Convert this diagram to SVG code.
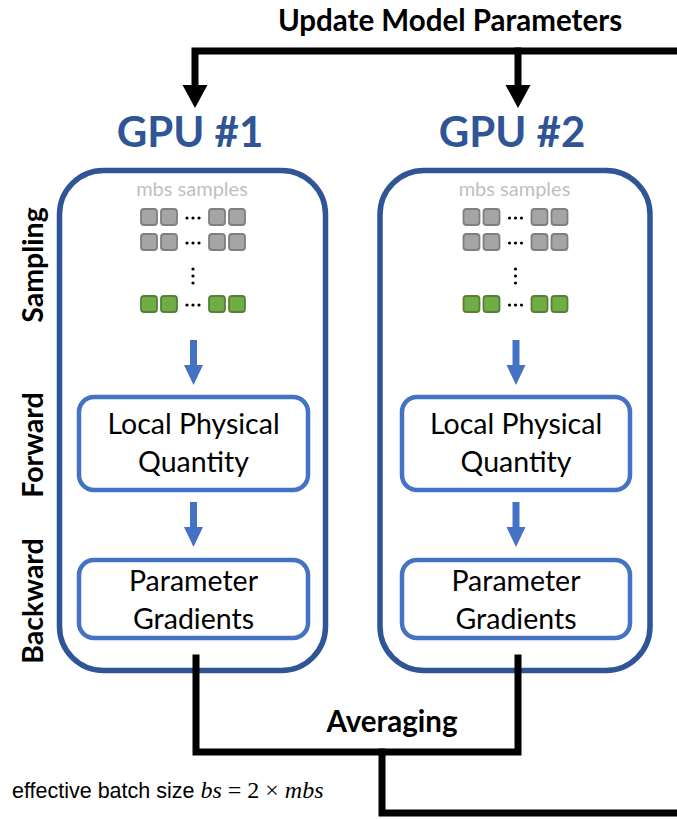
<svg xmlns="http://www.w3.org/2000/svg" width="677" height="819" viewBox="0 0 677 819">
  <style>
    .gpu-frame { fill: #ffffff; stroke: #2F5597; stroke-width: 5.5; }
    .gpu-title { font-family: Lato, "Open Sans", sans-serif; font-weight: bold; font-size: 42px; fill: #2F5597; text-anchor: middle; }
    .stage-box { fill: #ffffff; stroke: #4472C4; stroke-width: 4.5; }
    .stage-text { font-family: Lato, "Open Sans", sans-serif; font-size: 28.5px; fill: #000000; text-anchor: middle; }
    .samples-label { font-family: Lato, "Open Sans", sans-serif; font-size: 20px; fill: #BFBFBF; text-anchor: middle; }
    .sq-gray { fill: #A5A5A5; stroke: #7F7F7F; stroke-width: 1.8; }
    .sq-green { fill: #70AD47; stroke: #548235; stroke-width: 1.8; }
    .dot { fill: #000000; }
    .flow { fill: #4472C4; }
    .bus { fill: none; stroke: #000000; stroke-width: 7; stroke-linejoin: miter; stroke-linecap: square; }
    .bus-head { fill: #000000; }
    .bold-label { font-family: Lato, "Open Sans", sans-serif; font-weight: bold; font-size: 29.5px; fill: #000000; text-anchor: middle; }
    .side-label { font-family: Lato, "Open Sans", sans-serif; font-weight: bold; font-size: 28.5px; fill: #000000; text-anchor: middle; }
    .note { font-family: "Liberation Sans", Arial, sans-serif; font-size: 21.5px; fill: #000000; }
    .math { font-family: "Liberation Serif", "DejaVu Serif", serif; font-size: 24px; fill: #000000; }
  </style>
  <defs>
    <!-- one sample batch: two rows of grey squares, vertical ellipsis, one green row -->
    <g id="sample-block">
      <g>
        <rect class="sq-gray" x="141" y="209" width="16" height="16" rx="3"/>
        <rect class="sq-gray" x="161" y="209" width="16" height="16" rx="3"/>
        <circle class="dot" cx="187" cy="218" r="1.6"/>
        <circle class="dot" cx="193" cy="218" r="1.6"/>
        <circle class="dot" cx="199" cy="218" r="1.6"/>
        <rect class="sq-gray" x="209" y="209" width="16" height="16" rx="3"/>
        <rect class="sq-gray" x="229" y="209" width="16" height="16" rx="3"/>
      </g>
      <g>
        <rect class="sq-gray" x="141" y="234" width="16" height="16" rx="3"/>
        <rect class="sq-gray" x="161" y="234" width="16" height="16" rx="3"/>
        <circle class="dot" cx="187" cy="243" r="1.6"/>
        <circle class="dot" cx="193" cy="243" r="1.6"/>
        <circle class="dot" cx="199" cy="243" r="1.6"/>
        <rect class="sq-gray" x="209" y="234" width="16" height="16" rx="3"/>
        <rect class="sq-gray" x="229" y="234" width="16" height="16" rx="3"/>
      </g>
      <circle class="dot" cx="193" cy="269" r="1.6"/>
      <circle class="dot" cx="193" cy="276" r="1.6"/>
      <circle class="dot" cx="193" cy="283" r="1.6"/>
      <g>
        <rect class="sq-green" x="141" y="296" width="16" height="16" rx="3"/>
        <rect class="sq-green" x="161" y="296" width="16" height="16" rx="3"/>
        <circle class="dot" cx="187" cy="305" r="1.6"/>
        <circle class="dot" cx="193" cy="305" r="1.6"/>
        <circle class="dot" cx="199" cy="305" r="1.6"/>
        <rect class="sq-green" x="209" y="296" width="16" height="16" rx="3"/>
        <rect class="sq-green" x="229" y="296" width="16" height="16" rx="3"/>
      </g>
    </g>
    <!-- blue down arrow, tip at origin -->
    <polygon id="flow-arrow" class="flow" points="-3.5,-45 3.5,-45 3.5,-20 9.5,-20 0,0 -9.5,-20 -3.5,-20"/>
  </defs>

  <!-- phase labels along the left edge -->
  <g id="phase-labels">
    <text class="side-label" transform="translate(43 265) rotate(-90)">Sampling</text>
    <text class="side-label" transform="translate(43 445) rotate(-90)">Forward</text>
    <text class="side-label" transform="translate(43 601) rotate(-90)">Backward</text>
  </g>

  <g id="gpu1">
    <text class="gpu-title" x="190" y="147">GPU #1</text>
    <rect class="gpu-frame" x="59.5" y="170.5" width="266" height="500" rx="44"/>
    <text class="samples-label" x="192" y="196">mbs samples</text>
    <use href="#sample-block"/>
    <use href="#flow-arrow" x="193.5" y="385"/>
    <use href="#flow-arrow" x="193.5" y="547"/>
  </g>
  <g id="gpu1-forward">
    <rect class="stage-box" x="79" y="397" width="229" height="93" rx="15"/>
    <text class="stage-text" x="193.5" y="434">Local Physical</text>
    <text class="stage-text" x="193.5" y="472">Quantity</text>
  </g>
  <g id="gpu1-backward">
    <rect class="stage-box" x="79" y="560" width="229" height="78" rx="15"/>
    <text class="stage-text" x="193.5" y="591">Parameter</text>
    <text class="stage-text" x="193.5" y="629">Gradients</text>
  </g>

  <g id="gpu2">
    <text class="gpu-title" x="512" y="147">GPU #2</text>
    <rect class="gpu-frame" x="380" y="170.5" width="270" height="500" rx="44"/>
    <text class="samples-label" x="514.5" y="196">mbs samples</text>
    <use href="#sample-block" x="322.5"/>
    <use href="#flow-arrow" x="516" y="385"/>
    <use href="#flow-arrow" x="516" y="547"/>
  </g>
  <g id="gpu2-forward">
    <rect class="stage-box" x="402" y="397" width="228" height="93" rx="15"/>
    <text class="stage-text" x="516" y="434">Local Physical</text>
    <text class="stage-text" x="516" y="472">Quantity</text>
  </g>
  <g id="gpu2-backward">
    <rect class="stage-box" x="402" y="560" width="228" height="78" rx="15"/>
    <text class="stage-text" x="516" y="591">Parameter</text>
    <text class="stage-text" x="516" y="629">Gradients</text>
  </g>

  <!-- parameter broadcast and gradient averaging buses -->
  <g id="connectors">
    <path class="bus" d="M195 88 V51 H680"/>
    <path class="bus" d="M518 51 V88"/>
    <polygon class="bus-head" points="182.5,85 207.5,85 195,108"/>
    <polygon class="bus-head" points="505.5,85 530.5,85 518,108"/>
    <path class="bus" d="M196 658 V752 H518 V658"/>
    <path class="bus" d="M382 752 V813 H680"/>
  </g>

  <g id="labels">
    <text class="bold-label" x="450" y="31">Update Model Parameters</text>
    <text class="bold-label" x="392" y="732">Averaging</text>
    <text x="12" y="798"><tspan class="note">effective batch size </tspan><tspan class="math" font-style="italic">bs</tspan><tspan class="math"> = 2 × </tspan><tspan class="math" font-style="italic">mbs</tspan></text>
  </g>
</svg>
